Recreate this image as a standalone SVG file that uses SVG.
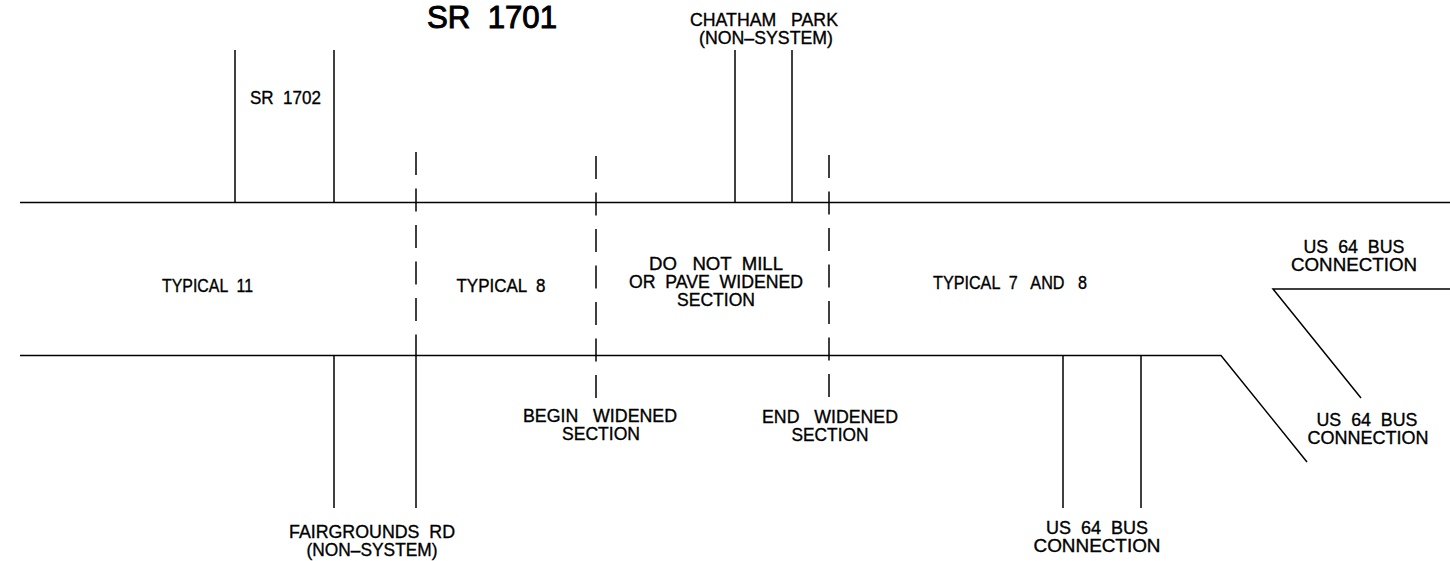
<svg xmlns="http://www.w3.org/2000/svg" width="1450" height="561" viewBox="0 0 1450 561">
<style>
.ln{stroke:#000;stroke-width:1.5;fill:none}
.dash{stroke:#000;stroke-width:1.5;fill:none;stroke-dasharray:23 13.5}
text{font-family:"Liberation Sans","DejaVu Sans",sans-serif;font-size:18px;fill:#000;stroke:#000;stroke-width:0.35;text-anchor:middle}
.title{font-size:32px;stroke-width:1}
</style>
<rect width="1450" height="561" fill="#fff"/>
<g id="connectors">
<line class="ln" x1="20" y1="202.5" x2="1450" y2="202.5"/>
<polyline class="ln" points="20,355.5 1221,355.5 1307,462"/>
<polyline class="ln" points="1450,289 1273,289 1361,398"/>
<line class="ln" x1="235" y1="50" x2="235" y2="202.5"/>
<line class="ln" x1="334" y1="50" x2="334" y2="202.5"/>
<line class="ln" x1="735" y1="50" x2="735" y2="202.5"/>
<line class="ln" x1="792" y1="50" x2="792" y2="202.5"/>
<line class="ln" x1="334" y1="355.5" x2="334" y2="508"/>
<line class="ln" x1="416" y1="355.5" x2="416" y2="508"/>
<line class="ln" x1="1063" y1="355.5" x2="1063" y2="508"/>
<line class="ln" x1="1141" y1="355.5" x2="1141" y2="508"/>
<line class="dash" x1="416" y1="152" x2="416" y2="355.5"/>
<line class="dash" x1="596" y1="156" x2="596" y2="400"/>
<line class="dash" x1="829" y1="155" x2="829" y2="398"/>
</g>
<g id="title"><text class="title" x="492" y="28" textLength="130" lengthAdjust="spacingAndGlyphs" xml:space="preserve">SR  1701</text></g>
<g id="sr1702"><text x="285.5" y="104" textLength="71" lengthAdjust="spacingAndGlyphs" xml:space="preserve">SR  1702</text></g>
<g id="chatham-park">
<text x="764" y="26" textLength="148" lengthAdjust="spacingAndGlyphs" xml:space="preserve">CHATHAM   PARK</text>
<text x="766" y="44" textLength="134" lengthAdjust="spacingAndGlyphs">(NON–SYSTEM)</text>
</g>
<g id="typical-11"><text x="207.5" y="292" textLength="91" lengthAdjust="spacingAndGlyphs" xml:space="preserve">TYPICAL  11</text></g>
<g id="typical-8"><text x="501" y="292" textLength="89" lengthAdjust="spacingAndGlyphs" xml:space="preserve">TYPICAL  8</text></g>
<g id="do-not-mill">
<text x="716" y="270" textLength="134" lengthAdjust="spacingAndGlyphs" xml:space="preserve">DO   NOT  MILL</text>
<text x="716" y="288" textLength="174" lengthAdjust="spacingAndGlyphs" xml:space="preserve">OR  PAVE  WIDENED</text>
<text x="716" y="306" textLength="78" lengthAdjust="spacingAndGlyphs">SECTION</text>
</g>
<g id="typical-7-8"><text x="1010" y="289" textLength="154" lengthAdjust="spacingAndGlyphs" xml:space="preserve">TYPICAL  7   AND   8</text></g>
<g id="us64-top">
<text x="1354" y="253" textLength="101" lengthAdjust="spacingAndGlyphs" xml:space="preserve">US  64  BUS</text>
<text x="1354" y="271" textLength="126" lengthAdjust="spacingAndGlyphs">CONNECTION</text>
</g>
<g id="begin-widened">
<text x="600" y="422" textLength="154" lengthAdjust="spacingAndGlyphs" xml:space="preserve">BEGIN   WIDENED</text>
<text x="601" y="440" textLength="78" lengthAdjust="spacingAndGlyphs">SECTION</text>
</g>
<g id="end-widened">
<text x="830" y="423" textLength="136" lengthAdjust="spacingAndGlyphs" xml:space="preserve">END   WIDENED</text>
<text x="830" y="441" textLength="77" lengthAdjust="spacingAndGlyphs">SECTION</text>
</g>
<g id="fairgrounds">
<text x="372" y="538" textLength="166" lengthAdjust="spacingAndGlyphs" xml:space="preserve">FAIRGROUNDS  RD</text>
<text x="372" y="556" textLength="131" lengthAdjust="spacingAndGlyphs">(NON–SYSTEM)</text>
</g>
<g id="us64-bottom">
<text x="1097" y="534" textLength="102" lengthAdjust="spacingAndGlyphs" xml:space="preserve">US  64  BUS</text>
<text x="1097" y="552" textLength="127" lengthAdjust="spacingAndGlyphs">CONNECTION</text>
</g>
<g id="us64-right">
<text x="1367" y="426" textLength="101" lengthAdjust="spacingAndGlyphs" xml:space="preserve">US  64  BUS</text>
<text x="1368" y="444" textLength="121" lengthAdjust="spacingAndGlyphs">CONNECTION</text>
</g>
</svg>
